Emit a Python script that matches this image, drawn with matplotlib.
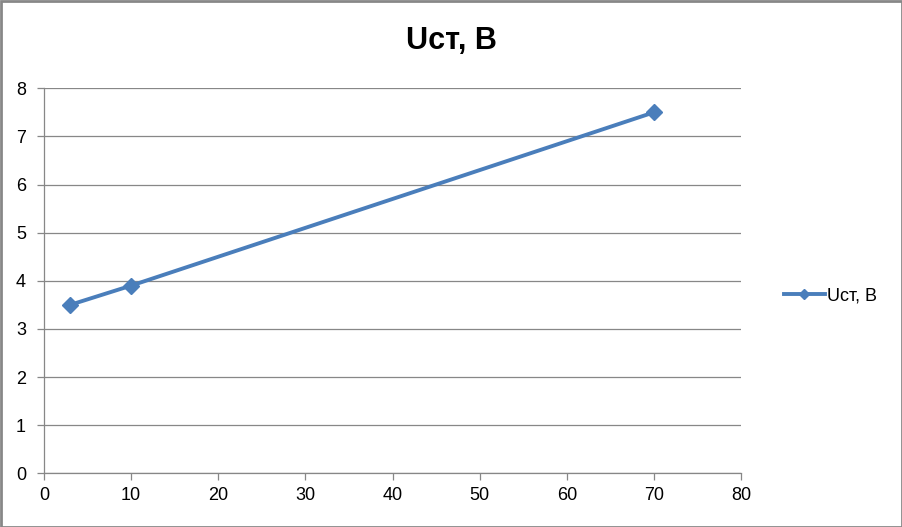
import matplotlib
matplotlib.use("Agg")
import matplotlib.pyplot as plt
from matplotlib.patches import Rectangle

x_vals = [3, 10, 70]
y_vals = [3.5, 3.9, 7.5]
series_name = "Uст, B"
title = "Uст, B"
x_ticks = [0, 10, 20, 30, 40, 50, 60, 70, 80]
y_ticks = [0, 1, 2, 3, 4, 5, 6, 7, 8]

plt.rcParams['font.family'] = ['Liberation Sans', 'DejaVu Sans']

fig = plt.figure(figsize=(9.02, 5.27), dpi=100)
ax = fig.add_axes([44/902, 1-473.3/527, (741-44)/902, (473.3-88.3)/527])

color = '#4a7ebb'
ax.plot(x_vals, y_vals, color=color, lw=2.8, marker='D', ms=8.5,
        markerfacecolor=color, markeredgecolor=color, label=series_name, zorder=3)

ax.set_xlim(0, 80)
ax.set_ylim(0, 8)
ax.set_xticks(x_ticks)
ax.set_yticks(y_ticks)
ax.yaxis.grid(True, color='#878787', lw=0.9)
ax.set_axisbelow(True)
for s in ['top', 'right']:
    ax.spines[s].set_visible(False)
for s in ['left', 'bottom']:
    ax.spines[s].set_color('#878787')
    ax.spines[s].set_linewidth(0.9)
ax.tick_params(axis='both', colors='#878787', labelcolor='black', labelsize=13,
               length=5, width=0.9, direction='out')
ax.tick_params(axis='x', pad=5)
ax.tick_params(axis='y', pad=8)

fig.text(0.5, 1-41/527, title, ha='center', va='center', fontsize=22, fontweight='bold')

leg = ax.legend(loc='center left', bbox_to_anchor=(1.038, 0.46), frameon=False,
                fontsize=13, handlelength=2.3, handletextpad=0.1, markerscale=0.6)

fig.patches.append(Rectangle((0.5/902, 0.5/527), 1-1/902, 1-1/527, transform=fig.transFigure,
                             fill=False, edgecolor='#878787', lw=2))

fig.savefig('out.png', dpi=100)
